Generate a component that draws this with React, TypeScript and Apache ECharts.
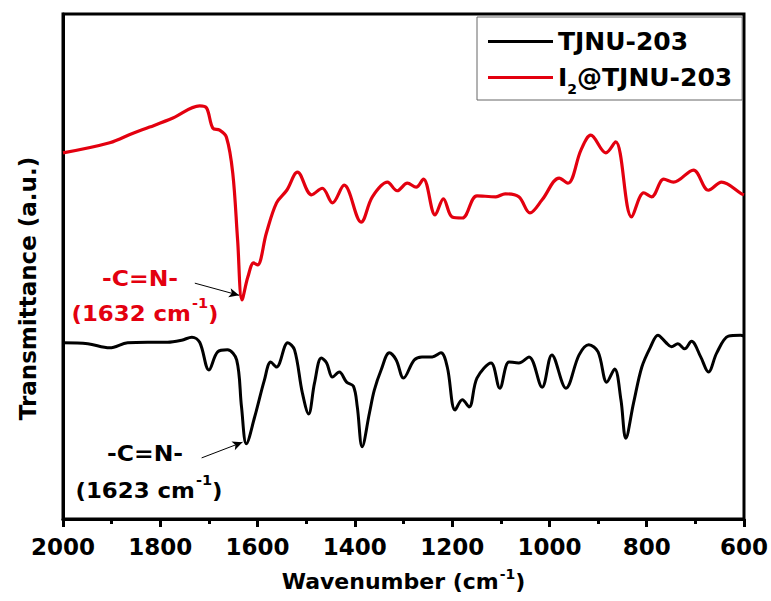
import React, { useEffect, useRef } from "react";
import * as echarts from "echarts";

// FT-IR spectra, wavenumber (cm-1) vs. transmittance (a.u., offset traces)
const tjnuWn = [
  2000, 1949, 1904, 1867, 1826, 1785, 1756, 1735, 1719, 1700, 1682, 1662, 1643, 1633, 1623,
  1606, 1586, 1573, 1561, 1538, 1524, 1508, 1495, 1483, 1469, 1458, 1446, 1432, 1417, 1403,
  1395, 1385, 1370, 1360, 1346, 1329, 1315, 1300, 1278, 1262, 1241, 1223, 1210, 1194, 1179,
  1165, 1149, 1120, 1102, 1083, 1063, 1042, 1015, 995, 966, 939, 919, 900, 882, 866, 853,
  843, 827, 810, 792, 777, 761, 749, 736, 722, 708, 689, 673, 656, 632, 607, 600,
];
const tjnuT = [
  34.9, 34.7, 33.9, 34.9, 35.0, 35.0, 35.4, 36.0, 35.0, 29.5, 33.1, 33.5, 31.5, 22.2, 14.9,
  20.2, 27.5, 31.1, 30.1, 34.9, 33.5, 25.0, 20.8, 26.9, 31.9, 30.9, 28.1, 29.1, 27.1, 26.3,
  22.2, 14.3, 21.0, 25.5, 29.5, 32.9, 31.5, 27.9, 31.5, 32.1, 32.1, 32.9, 30.1, 21.6, 23.6,
  22.2, 27.9, 30.9, 25.9, 31.1, 30.9, 32.1, 26.1, 32.5, 25.9, 32.5, 34.5, 33.1, 27.1, 29.7, 23.6,
  16.0, 23.0, 30.1, 34.1, 36.4, 35.0, 34.1, 34.7, 33.7, 35.2, 32.1, 29.1, 32.9, 36.2, 36.4, 36.2,
];

const iodWn = [
  2000, 1904, 1856, 1822, 1774, 1719, 1705, 1692, 1678, 1664, 1651, 1641, 1632, 1620, 1608,
  1600, 1582, 1561, 1540, 1518, 1489, 1467, 1446, 1422, 1387, 1364, 1333, 1313, 1292, 1274,
  1259, 1235, 1218, 1200, 1179, 1149, 1110, 1091, 1063, 1040, 1015, 980, 962, 935, 915, 884,
  864, 831, 806, 790, 765, 745, 704, 673, 646, 605, 600,
];
const iodT = [
  72.5, 74.5, 76.4, 77.6, 79.4, 81.8, 81.4, 77.4, 77.0, 75.6, 68.5, 55.2, 43.4, 47.9, 50.7,
  50.3, 56.6, 62.6, 65.1, 68.7, 64.2, 65.5, 62.6, 66.1, 58.8, 63.8, 66.7, 65.0, 66.5, 65.7,
  67.3, 60.2, 63.4, 59.8, 59.6, 64.0, 63.8, 64.4, 63.8, 60.6, 63.2, 67.5, 66.5, 73.1, 76.0, 72.5,
  74.7, 59.8, 64.6, 63.8, 67.3, 66.7, 69.1, 65.1, 66.7, 64.4, 64.2,
];

const seriesNames = ["TJNU-203", "I2@TJNU-203"];
const xTicks = { min: 600, max: 2000, interval: 200 };

// annotated C=N stretching bands
const peakTjnu = { wn: 1623, t: 14.9 };
const peakIod = { wn: 1632, t: 43.4 };

const RED = "#e3000f";
const FONT = "DejaVu Sans";

export default function App() {
  const ref = useRef<HTMLDivElement>(null);

  useEffect(() => {
    if (!ref.current) return;
    const chart = echarts.init(ref.current, undefined, { renderer: "svg" });

    const toPairs = (xs: number[], ys: number[]) => xs.map((x, i) => [x, ys[i]]);

    // rich styles for axis names (component text uses `color`)
    const axisSupRich = {
      base: { fontFamily: FONT, fontWeight: "bold", fontSize: 22, color: "#000", lineHeight: 28, verticalAlign: "bottom" as const },
      sup: { fontFamily: FONT, fontWeight: "bold", fontSize: 14, color: "#000", lineHeight: 28, verticalAlign: "top" as const, padding: [0, 0, 0, 1] },
    };
    // rich styles for graphic text (zrender uses `fill`)
    const graphicSupRich = (fill: string) => ({
      base: { fontFamily: FONT, fontWeight: "bold", fontSize: 22, fill, lineHeight: 28, verticalAlign: "bottom" as const },
      sup: { fontFamily: FONT, fontWeight: "bold", fontSize: 14, fill, lineHeight: 28, verticalAlign: "top" as const, padding: [0, 0, 0, 1] },
    });

    chart.setOption({
      animation: false,
      backgroundColor: "#fff",
      grid: {
        left: 63,
        right: 26,
        top: 14,
        bottom: 82,
        show: true,
        borderColor: "#000",
        borderWidth: 3,
      },
      legend: {
        orient: "vertical",
        left: 477,
        top: 17,
        padding: [12, 10, 4, 11],
        itemGap: 11,
        itemWidth: 65,
        itemHeight: 3,
        icon: "rect",
        borderColor: "#666",
        borderWidth: 1,
        backgroundColor: "#fff",
        data: seriesNames,
        formatter: (name: string) => (name === "I2@TJNU-203" ? "{b|I}{sub|2}{b|@TJNU-203}" : "{b|" + name + "}"),
        textStyle: {
          rich: {
            b: { fontFamily: FONT, fontWeight: "bold", fontSize: 25, color: "#000", lineHeight: 33 },
            sub: { fontFamily: FONT, fontWeight: "bold", fontSize: 14, color: "#000", lineHeight: 33, verticalAlign: "bottom" as const, padding: [0, 0, -2, 0] },
          },
        },
      },
      xAxis: {
        type: "value",
        inverse: true,
        min: xTicks.min,
        max: xTicks.max,
        interval: xTicks.interval,
        name: "Wavenumber (cm{sup|-1})",
        nameLocation: "middle",
        nameGap: 48,
        nameTextStyle: {
          fontFamily: FONT,
          fontWeight: "bold",
          fontSize: 22,
          color: "#000",
          rich: axisSupRich,
        },
        axisLine: { show: true, lineStyle: { color: "#000", width: 3 } },
        axisTick: { show: true, inside: false, length: 8, lineStyle: { color: "#000", width: 3 } },
        minorTick: { show: true, splitNumber: 2, length: 5, lineStyle: { color: "#000", width: 3 } },
        axisLabel: {
          fontFamily: FONT,
          fontWeight: "bold",
          fontSize: 23,
          color: "#000",
          margin: 16,
          formatter: (v: number) => String(v),
        },
        splitLine: { show: false },
      },
      yAxis: {
        type: "value",
        min: 0,
        max: 100,
        name: "Transmittance (a.u.)",
        nameLocation: "middle",
        nameGap: 24,
        nameTextStyle: {
          fontFamily: FONT,
          fontWeight: "bold",
          fontSize: 23,
          color: "#000",
          padding: [0, 44, 0, 0],
        },
        axisLine: { show: true, lineStyle: { color: "#000", width: 3 } },
        axisTick: { show: false },
        axisLabel: { show: false },
        splitLine: { show: false },
      },
      series: [
        {
          name: seriesNames[0],
          type: "line",
          data: toPairs(tjnuWn, tjnuT),
          smooth: 0.35,
          showSymbol: false,
          color: "#000",
          lineStyle: { color: "#000", width: 3 },
          markLine: {
            silent: true,
            symbol: ["none", "arrow"],
            symbolSize: [7, 10],
            label: { show: false },
            lineStyle: { color: "#000", width: 1, type: "solid" },
            data: [[{ coord: [1715, 12.1] }, { coord: [peakTjnu.wn + 8, peakTjnu.t + 0.3] }]],
          },
        },
        {
          name: seriesNames[1],
          type: "line",
          data: toPairs(iodWn, iodT),
          smooth: 0.35,
          showSymbol: false,
          color: RED,
          lineStyle: { color: RED, width: 3.2 },
          markLine: {
            silent: true,
            symbol: ["none", "arrow"],
            symbolSize: [7, 10],
            label: { show: false },
            lineStyle: { color: "#000", width: 1, type: "solid" },
            data: [[{ coord: [1729, 46.7] }, { coord: [peakIod.wn + 6, peakIod.t + 0.9] }]],
          },
        },
      ],
      graphic: [
        {
          type: "text",
          x: 140,
          y: 278,
          scaleX: 1.12,
          style: { text: "-C=N-", fill: RED, font: `bold 21px "${FONT}"`, align: "center", verticalAlign: "middle" },
        },
        {
          type: "text",
          x: 145,
          y: 310,
          scaleX: 1.04,
          style: {
            text: `{base|(${peakIod.wn} cm}{sup|-1}{base|)}`,
            fill: RED,
            align: "center",
            verticalAlign: "middle",
            rich: graphicSupRich(RED),
          },
        },
        {
          type: "text",
          x: 145,
          y: 453,
          scaleX: 1.12,
          style: { text: "-C=N-", fill: "#000", font: `bold 21px "${FONT}"`, align: "center", verticalAlign: "middle" },
        },
        {
          type: "text",
          x: 149,
          y: 487,
          scaleX: 1.04,
          style: {
            text: `{base|(${peakTjnu.wn} cm}{sup|-1}{base|)}`,
            fill: "#000",
            align: "center",
            verticalAlign: "middle",
            rich: graphicSupRich("#000"),
          },
        },
      ],
    });

    return () => chart.dispose();
  }, []);

  return (
    <div
      ref={ref}
      style={{ position: "fixed", left: 0, top: 0, width: 771, height: 601, background: "#fff" }}
    />
  );
}
